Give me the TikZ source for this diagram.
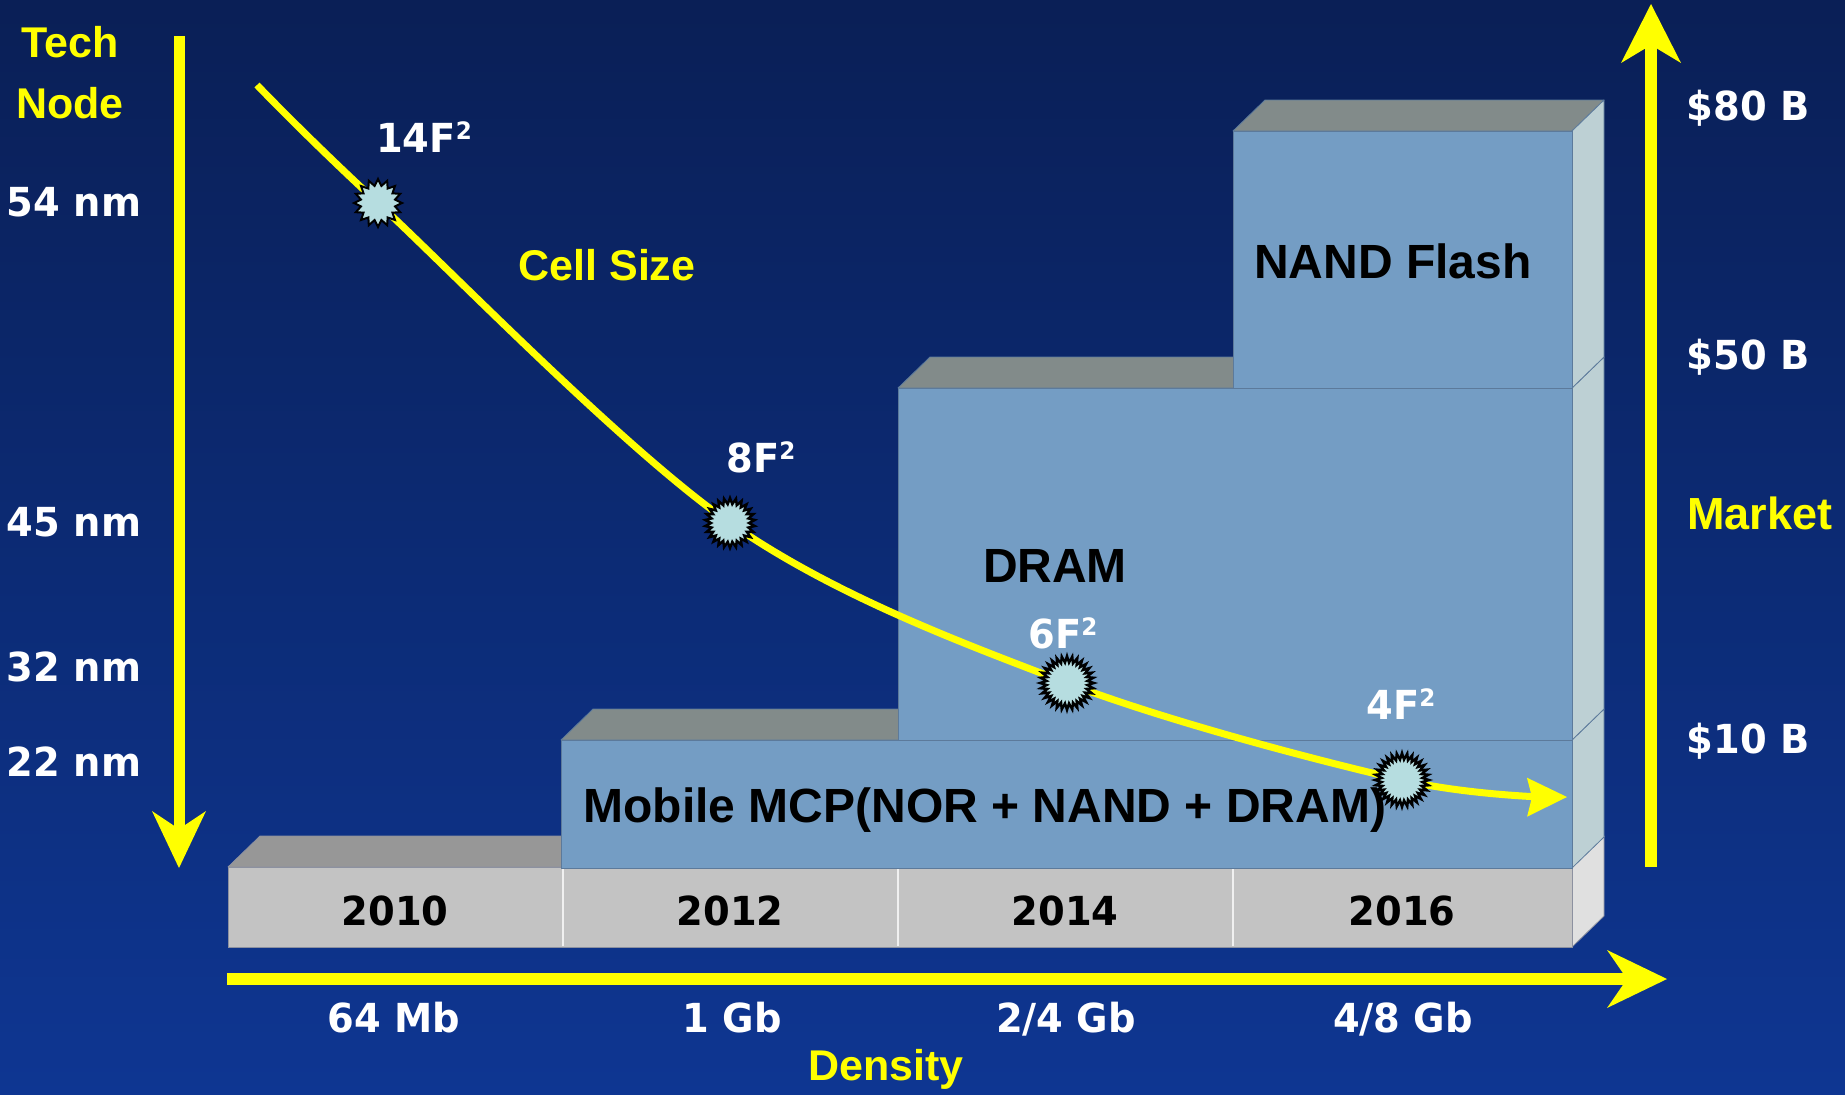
\documentclass[tikz,border=0pt]{standalone}
\usepackage{fontspec}
\setmainfont{Liberation Sans}
\newfontfamily\numfont{DejaVu Sans}[FakeStretch=0.96]
\usetikzlibrary{shapes.geometric,arrows.meta}

\definecolor{bgtop}{RGB}{10,31,86}
\definecolor{bgbot}{RGB}{14,54,146}
\definecolor{axisyellow}{RGB}{255,255,0}
\definecolor{blockfront}{RGB}{116,157,196}
\definecolor{blocktop}{RGB}{130,139,138}
\definecolor{blockside}{RGB}{189,208,212}
\definecolor{blockedge}{RGB}{92,122,155}
\definecolor{basefront}{RGB}{195,195,195}
\definecolor{basetop}{RGB}{151,151,151}
\definecolor{baseside}{RGB}{224,224,224}
\definecolor{baseedge}{RGB}{140,145,160}
\definecolor{starfill}{RGB}{182,221,224}

% a box seen from the front-right: front face, top face, right side face
% #1,#2 front top-left  #3,#4 front bottom-right  #5 front  #6 top  #7 side  #8 edge
\newcommand{\prism}[8]{%
  \filldraw[fill=#6, draw=#8, line width=0.8pt, line join=round]
    (#1,#2) -- (#3,#2) -- (#3+32,#2-31) -- (#1+32,#2-31) -- cycle;
  \filldraw[fill=#7, draw=#8, line width=0.8pt, line join=round]
    (#3,#2) -- (#3+32,#2-31) -- (#3+32,#4-31) -- (#3,#4) -- cycle;
  \filldraw[fill=#5, draw=#8, line width=0.8pt] (#1,#2) rectangle (#3,#4);
}
% raised square for the cell-size labels
\newcommand{\sqmark}{\raisebox{13pt}{\fontsize{24}{24}\selectfont 2}}

\begin{document}
\begin{tikzpicture}[x=1pt,y=-1pt,
  axislabel/.style={text=axisyellow, font=\bfseries\fontsize{43}{43}\selectfont, anchor=base},
  valuelabel/.style={text=white, font=\numfont\bfseries\fontsize{40}{40}\selectfont, anchor=base},
  blocklabel/.style={text=black, font=\bfseries\fontsize{48}{48}\selectfont, anchor=base},
  yearlabel/.style={text=black, font=\numfont\bfseries\fontsize{40}{40}\selectfont, anchor=base},
  axisline/.style={draw=axisyellow, line width=12pt},
  cellcurve/.style={draw=axisyellow, line width=7pt,
    -{Stealth[length=40pt,width=39pt,inset=5pt,line width=0pt]}},
  smallstar/.style={star, star points=16, star point ratio=1.38, minimum size=48pt,
    inner sep=0pt, fill=starfill, draw=black, line width=2pt},
  bigstar/.style={star, star points=32, star point ratio=1.32, minimum size=54pt,
    inner sep=0pt, fill=starfill, draw=black, line width=2.4pt},
  divider/.style={draw=white!88!gray, line width=1.5pt}]

\useasboundingbox (0,0) rectangle (1845,1095);
\shade[top color=bgtop, bottom color=bgbot] (0,0) rectangle (1845,1095);

% year strip at the bottom
\prism{228}{867}{1572}{947}{basefront}{basetop}{baseside}{baseedge}
\draw[divider] (563,868) -- (563,946);
\draw[divider] (898,868) -- (898,946);
\draw[divider] (1233,868) -- (1233,946);

% market blocks
\prism{561}{740}{1572}{868}{blockfront}{blocktop}{blockside}{blockedge}
\prism{898}{388}{1572}{740}{blockfront}{blocktop}{blockside}{blockedge}
\prism{1233}{131}{1572}{388}{blockfront}{blocktop}{blockside}{blockedge}

% years
\node[yearlabel] (y2010) at (395,925) {2010};
\node[yearlabel] (y2012) at (730,925) {2012};
\node[yearlabel] (y2014) at (1065,925) {2014};
\node[yearlabel] (y2016) at (1402,925) {2016};

% block names
\node[blocklabel] (nand) at (1393,278) {NAND Flash};
\node[blocklabel] (dram) at (1055,582) {DRAM};
\node[blocklabel, anchor=base west] (mcp) at (580,822) {Mobile MCP(NOR + NAND + DRAM)};

% axes
\coordinate (tnTop) at (179,36);
\coordinate (tnTip) at (179,868);
\coordinate (mkBot) at (1651,867);
\coordinate (mkTip) at (1651,4);
\coordinate (dnStart) at (227,979);
\coordinate (dnTip) at (1667,979);
\draw[axisline, line width=11pt, -{Stealth[length=57pt,width=54pt,inset=18pt,line width=0pt]}] (tnTop) -- (tnTip);
\draw[axisline, -{Stealth[length=59pt,width=60pt,inset=18pt,line width=0pt]}] (mkBot) -- (mkTip);
\draw[axisline, -{Stealth[length=60pt,width=58pt,inset=20pt,line width=0pt]}] (dnStart) -- (dnTip);

% cell-size curve
\coordinate (cStart) at (257,85);
\coordinate (p14) at (378,203);
\coordinate (p8) at (730,523);
\coordinate (p6) at (1067,683);
\coordinate (p4) at (1402,780);
\coordinate (cEnd) at (1567,797);
\draw[cellcurve] plot[smooth, tension=0.55] coordinates {(cStart) (p14) (p8) (p6) (p4) (cEnd)};

\node[smallstar] (s14) at (p14) {};
\node[bigstar, star points=26, minimum size=50pt] (s8) at (p8) {};
\node[bigstar] (s6) at (p6) {};
\node[bigstar] (s4) at (p4) {};

% cell-size labels
\node[valuelabel] (l14) at (424,152) {14F\sqmark};
\node[valuelabel] (l8) at (761,472) {8F\sqmark};
\node[valuelabel] (l6) at (1063,648) {6F\sqmark};
\node[valuelabel] (l4) at (1401,719) {4F\sqmark};
\node[axislabel] (cell) at (607,280) {Cell Size};

% tech node axis labels
\node[axislabel] (tech) at (70,57) {Tech};
\node[axislabel] (node) at (70,118) {Node};
\node[valuelabel] (n54) at (74,216) {54 nm};
\node[valuelabel] (n45) at (74,536) {45 nm};
\node[valuelabel] (n32) at (74,681) {32 nm};
\node[valuelabel] (n22) at (74,776) {22 nm};

% market axis labels
\node[valuelabel] (m80) at (1748,120) {\$80 B};
\node[valuelabel] (m50) at (1748,369) {\$50 B};
\node[axislabel, font=\bfseries\fontsize{45}{45}\selectfont] (market) at (1760,529) {Market};
\node[valuelabel] (m10) at (1748,753) {\$10 B};

% density axis labels
\node[valuelabel] (d64) at (394,1032) {64 Mb};
\node[valuelabel] (d1) at (732,1032) {1 Gb};
\node[valuelabel] (d24) at (1066,1032) {2/4 Gb};
\node[valuelabel] (d48) at (1403,1032) {4/8 Gb};
\node[axislabel] (density) at (886,1080) {Density};
\end{tikzpicture}
\end{document}
